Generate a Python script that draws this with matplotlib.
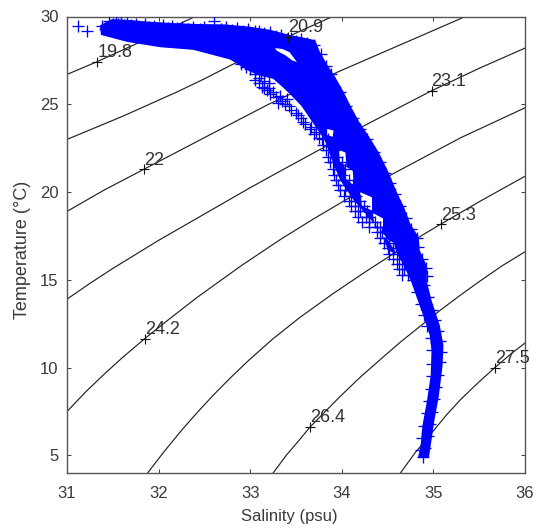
import matplotlib
matplotlib.use("Agg")
import matplotlib.pyplot as plt
from matplotlib.path import Path
from matplotlib.patches import PathPatch

plt.rcParams['font.family'] = ['Liberation Sans', 'DejaVu Sans']

# Isopycnals (salinity, temperature)
iso_198_s = [31.0, 31.33, 31.8, 32.4]
iso_198_t = [26.7, 27.43, 28.55, 30.0]
iso_209_s = [31.0, 31.3, 31.6, 31.9, 32.2, 32.5, 32.78, 33.1, 33.41, 33.9]
iso_209_t = [23.0, 23.65, 24.3, 25.0, 25.7, 26.45, 27.2, 28.0, 28.85, 30.0]
iso_22_s = [31.0, 31.4, 31.84, 32.5, 33.2, 33.96, 34.6, 35.35]
iso_22_t = [18.9, 20.1, 21.3, 23.1, 25.0, 26.85, 28.3, 30.0]
iso_231_s = [31.0, 31.25, 31.5, 31.75, 32.0, 32.35, 32.7, 33.0, 33.33, 33.7, 34.27, 34.98, 35.5, 36.0]
iso_231_t = [13.9, 14.8, 15.65, 16.45, 17.25, 18.3, 19.35, 20.25, 21.2, 22.25, 23.85, 25.77, 27.05, 28.2]
iso_242_s = [31.0, 31.2, 31.4, 31.6, 31.85, 32.1, 32.42, 32.9, 33.33, 33.7, 34.09, 34.58, 35.3, 36.0]
iso_242_t = [7.5, 8.6, 9.6, 10.55, 11.66, 12.7, 14.0, 15.8, 17.3, 18.5, 19.7, 21.1, 23.1, 24.8]
iso_253_s = [31.88, 32.05, 32.12, 32.27, 32.44, 32.6, 32.78, 32.98, 33.25, 33.54, 33.9, 34.27, 34.88, 35.08, 35.5, 36.0]
iso_253_t = [4.0, 5.15, 5.6, 6.55, 7.55, 8.45, 9.4, 10.4, 11.65, 12.85, 14.2, 15.5, 17.55, 18.17, 19.45, 20.9]
iso_264_s = [33.25, 33.4, 33.54, 33.65, 33.8, 33.98, 34.2, 34.45, 34.65, 34.89, 35.07, 35.3, 35.5, 35.75, 36.0]
iso_264_t = [4.0, 5.05, 5.9, 6.6, 7.4, 8.35, 9.45, 10.6, 11.5, 12.5, 13.25, 14.15, 14.9, 15.8, 16.6]
iso_275_s = [34.64, 34.8, 35.0, 35.15, 35.3, 35.5, 35.67, 35.85, 36.0]
iso_275_t = [4.0, 5.15, 6.4, 7.35, 8.2, 9.2, 10.0, 10.8, 11.4]

label_text = ['19.8', '20.9', '22', '23.1', '24.2', '25.3', '26.4', '27.5']
label_s = [31.33, 33.41, 31.84, 34.98, 31.85, 35.08, 33.65, 35.67]
label_t = [27.43, 28.85, 21.3, 25.77, 11.66, 18.17, 6.63, 10.0]

# Saturated part of the cloud, where single crosses merge: its outline
core_s = [31.36, 31.49, 31.69, 31.91, 32.18, 32.45, 32.72, 33.0, 33.22, 33.43, 33.6, 33.71,
          33.76, 33.84, 33.92, 34.02, 34.1, 34.19, 34.3, 34.4, 34.51, 34.6, 34.68, 34.75,
          34.84, 34.85, 34.92, 34.93, 34.98, 35.07, 35.11, 35.1, 35.06, 35.01, 34.97, 34.95,
          34.83, 34.86, 34.88, 34.93, 34.97, 34.98, 34.96, 34.9, 34.83, 34.76, 34.67, 34.58,
          34.49, 34.27, 34.12, 33.98, 33.89, 33.81, 33.67, 33.56, 33.43, 33.36, 33.25,
          33.13, 33.0, 32.78, 32.38, 32.02, 31.66, 31.37]
core_t = [29.5, 29.85, 29.8, 29.7, 29.62, 29.57, 29.55, 29.42, 29.24, 28.95, 28.78, 28.65,
          28.0, 27.26, 26.63, 25.71, 24.86, 24.0, 23.14, 22.29, 21.14, 20.0, 19.14, 18.17,
          17.43, 16.69, 15.89, 14.86, 13.83, 12.4, 11.26, 10.11, 8.4, 6.97, 5.54, 4.85,
          4.85, 5.54, 6.69, 8.11, 9.54, 10.97, 11.83, 12.8, 13.83, 14.86, 15.9, 16.65,
          17.4, 18.7, 19.6, 20.7, 21.85, 23.0, 24.05, 24.9, 25.6, 25.95, 26.45,
          26.6, 26.85, 27.55, 28.1, 28.25, 28.55, 28.95]

# White gaps left between the crosses (area names follow the order down the branch)
gap_upper_s = [33.27, 33.35, 33.43, 33.51, 33.46, 33.38, 33.29]
gap_upper_t = [28.2, 28.15, 27.97, 27.4, 27.5, 27.8, 28.05]
gap_a_s = [33.84, 33.91, 33.9, 33.84]
gap_a_t = [23.6, 23.5, 23.15, 23.25]
gap_b_s = [33.97, 34.04, 34.05, 33.98]
gap_b_t = [22.4, 22.25, 21.5, 21.7]
gap_c_s = [34.03, 34.12, 34.13, 34.05]
gap_c_t = [21.5, 21.2, 20.4, 20.7]
gap_d_s = [34.2, 34.33, 34.33, 34.22]
gap_d_t = [20.0, 19.7, 18.95, 19.2]
gap_e_s = [34.34, 34.45, 34.45, 34.36]
gap_e_t = [18.8, 18.5, 17.75, 18.0]
gap_f_s = [34.46, 34.57, 34.6, 34.5]
gap_f_t = [17.4, 17.1, 16.45, 16.7]

# Individually visible crosses: stragglers and the fringe of the cloud
edge_s = [31.12, 31.22, 31.38, 31.42, 31.46, 31.5, 31.53, 31.56, 31.59, 31.62, 31.66, 31.7, 31.75, 31.8, 31.85, 31.9,
          31.95, 32.0, 32.05, 32.1, 32.15, 32.2, 32.26, 32.32, 32.38, 32.45, 32.5,
          32.55, 32.6, 32.68, 32.74, 32.8, 32.86, 32.92, 32.98, 33.05, 33.1, 33.15, 33.22, 33.28, 33.34, 33.4, 33.45, 33.5, 33.56, 33.62, 33.7,
          33.77, 33.83, 33.88, 33.98, 34.05, 34.12, 34.2, 34.27, 34.35, 34.42, 34.47, 34.53,
          34.58, 34.64, 34.7, 34.75, 34.82, 34.83, 34.88, 34.92, 34.93, 34.9, 34.94, 34.98,
          35.02, 35.05, 35.07, 35.08, 35.07, 35.05, 35.03, 35.01, 34.98, 34.96, 34.94, 34.91,
          34.89, 34.87, 34.88, 34.9, 34.93, 34.95, 34.97, 34.98, 34.98, 34.98, 34.97, 34.93,
          34.9, 34.86, 34.82, 34.78, 34.74, 34.69]
edge_t = [29.45, 29.2, 29.45, 29.3, 29.75, 29.6, 29.7, 29.55, 29.75, 29.5, 29.65, 29.5, 29.6, 29.42, 29.55, 29.4,
          29.45, 29.35, 29.5, 29.33, 29.45, 29.35, 29.4, 29.28, 29.42, 29.3, 29.4,
          29.25, 29.75, 29.3, 29.4, 29.25, 29.35, 29.2, 29.3, 29.15, 29.2, 29.05, 29.1, 28.9, 28.95, 28.7, 28.8, 28.6, 28.7, 28.5, 28.4,
          27.85, 27.2, 26.7, 25.7, 24.9, 24.2, 23.6, 23.0, 22.3, 21.7, 21.1, 20.5,
          19.9, 19.2, 18.5, 17.9, 17.4, 16.9, 16.2, 15.7, 15.2, 14.7, 14.0, 13.3,
          12.7, 12.1, 11.5, 10.9, 10.3, 9.6, 8.9, 8.2, 7.5, 6.8, 6.1, 5.4,
          4.9, 5.3, 6.0, 6.7, 7.4, 8.1, 8.8, 9.5, 10.2, 11.0, 11.7, 12.4,
          13.0, 13.6, 14.3, 15.0, 15.6, 16.2]

# Cooler, fresher branch of the cloud, as a lattice of crosses
branch_s = [32.9, 32.95, 33.0, 33.05, 33.1, 33.15, 33.13, 33.2, 33.18, 33.25, 33.28, 33.35, 33.3,
            33.38, 33.42, 33.5, 33.55, 33.6, 33.65, 33.7, 33.75, 33.05, 33.1, 33.12, 33.2, 33.15, 33.22, 33.32, 33.4,
            33.45, 33.52, 33.58, 33.66, 33.72,
            33.78, 33.85, 33.8, 33.88, 33.83, 33.92, 33.85, 33.95, 33.87, 33.92, 34.0,
            33.9, 33.97, 34.03, 33.92, 34.0, 33.94, 34.02, 34.08, 33.96, 34.05, 34.12,
            33.98, 34.04, 34.1, 34.02, 34.1, 34.16, 34.08, 34.14, 34.2, 34.1, 34.18, 34.24,
            34.14, 34.2, 34.28, 34.18, 34.26, 34.3, 34.22, 34.3, 34.36, 34.3, 34.38, 34.42,
            34.38, 34.44, 34.42, 34.48, 34.52, 34.46, 34.52, 34.5, 34.56, 34.52, 34.6,
            34.56, 34.62, 34.6, 34.66, 34.62, 34.68, 34.66, 34.72]
branch_t = [27.3, 27.15, 27.0, 26.7, 26.5, 26.3, 26.0, 26.2, 25.8, 25.7, 25.4, 25.2, 25.1,
            25.0, 24.9, 24.5, 24.2, 23.9, 23.6, 23.3, 23.1, 26.4, 26.2, 26.7, 25.9, 25.9, 25.6, 25.5, 25.3,
            24.7, 24.4, 24.0, 23.7, 23.4,
            23.0, 23.0, 22.7, 22.7, 22.4, 22.4, 22.0, 22.0, 21.7, 21.7, 21.7,
            21.3, 21.3, 21.3, 21.0, 21.0, 20.7, 20.7, 20.7, 20.4, 20.4, 20.4,
            20.1, 20.1, 20.1, 19.8, 19.8, 19.8, 19.5, 19.5, 19.5, 19.2, 19.2, 19.2,
            18.9, 18.9, 18.9, 18.6, 18.6, 18.6, 18.3, 18.3, 18.3, 18.0, 18.0, 18.0,
            17.7, 17.7, 17.4, 17.4, 17.4, 17.1, 17.1, 16.8, 16.8, 16.5, 16.5,
            16.2, 16.2, 15.9, 15.9, 15.6, 15.6, 15.3, 15.3]

x_ticks = [31, 32, 33, 34, 35, 36]
y_ticks = [5, 10, 15, 20, 25, 30]

BLUE = '#0000ff'
GREY = '#3a3a3a'

fig = plt.figure(figsize=(5.34, 5.30), dpi=100)
ax = fig.add_axes([67 / 534, (530 - 473) / 530, 458 / 534, 456.5 / 530])

isos = [(iso_198_s, iso_198_t), (iso_209_s, iso_209_t), (iso_22_s, iso_22_t), (iso_231_s, iso_231_t),
        (iso_242_s, iso_242_t), (iso_253_s, iso_253_t), (iso_264_s, iso_264_t), (iso_275_s, iso_275_t)]
for s, t in isos:
    ax.plot(s, t, color='#222222', lw=0.85, zorder=1)

outer = list(zip(core_s, core_t))
verts = outer + [outer[0]]
codes = [Path.MOVETO] + [Path.LINETO] * (len(outer) - 1) + [Path.CLOSEPOLY]
gaps = [(gap_upper_s, gap_upper_t), (gap_a_s, gap_a_t), (gap_b_s, gap_b_t), (gap_c_s, gap_c_t),
        (gap_d_s, gap_d_t), (gap_e_s, gap_e_t), (gap_f_s, gap_f_t)]
for gs, gt in gaps:
    hole = list(zip(gs, gt))[::-1]
    verts += hole + [hole[0]]
    codes += [Path.MOVETO] + [Path.LINETO] * (len(hole) - 1) + [Path.CLOSEPOLY]
ax.add_patch(PathPatch(Path(verts, codes), facecolor=BLUE, edgecolor='none', zorder=2))

ax.plot(edge_s, edge_t, ls='none', marker='+', ms=8.6, mew=0.95, color=BLUE, zorder=3)
ax.plot(branch_s, branch_t, ls='none', marker='+', ms=8.6, mew=0.95, color=BLUE, zorder=3)

ax.plot(label_s, label_t, ls='none', marker='+', ms=7.5, mew=0.8, color='#111111', zorder=4)
for txt, s, t in zip(label_text, label_s, label_t):
    ax.annotate(txt, (s, t), xytext=(0, 0.5), textcoords='offset points', ha='left', va='bottom',
                fontsize=13, color='#333333', zorder=5, annotation_clip=False)

ax.set_xlim(31, 36)
ax.set_ylim(4, 30)
ax.set_xticks(x_ticks)
ax.set_yticks(y_ticks)
ax.tick_params(direction='in', top=True, right=True, length=3.2, width=0.7, color=GREY,
               labelcolor=GREY, labelsize=12)
ax.tick_params(axis='x', pad=9)
ax.tick_params(axis='y', pad=6)
for sp in ax.spines.values():
    sp.set_linewidth(1.0)
    sp.set_color('#555555')
ax.set_xlabel('Salinity (psu)', fontsize=12, color=GREY)
ax.set_ylabel('Temperature (°C)', fontsize=13, color=GREY)
ax.xaxis.set_label_coords((289 - 67) / 458, -(517 - 473) / 456.5, transform=ax.transAxes)
ax.yaxis.set_label_coords(-(67 - 23) / 458, (473 - 250) / 456.5, transform=ax.transAxes)
ax.xaxis.label.set_va('center')
ax.yaxis.label.set_va('center')

fig.savefig('out.png', dpi=100)
